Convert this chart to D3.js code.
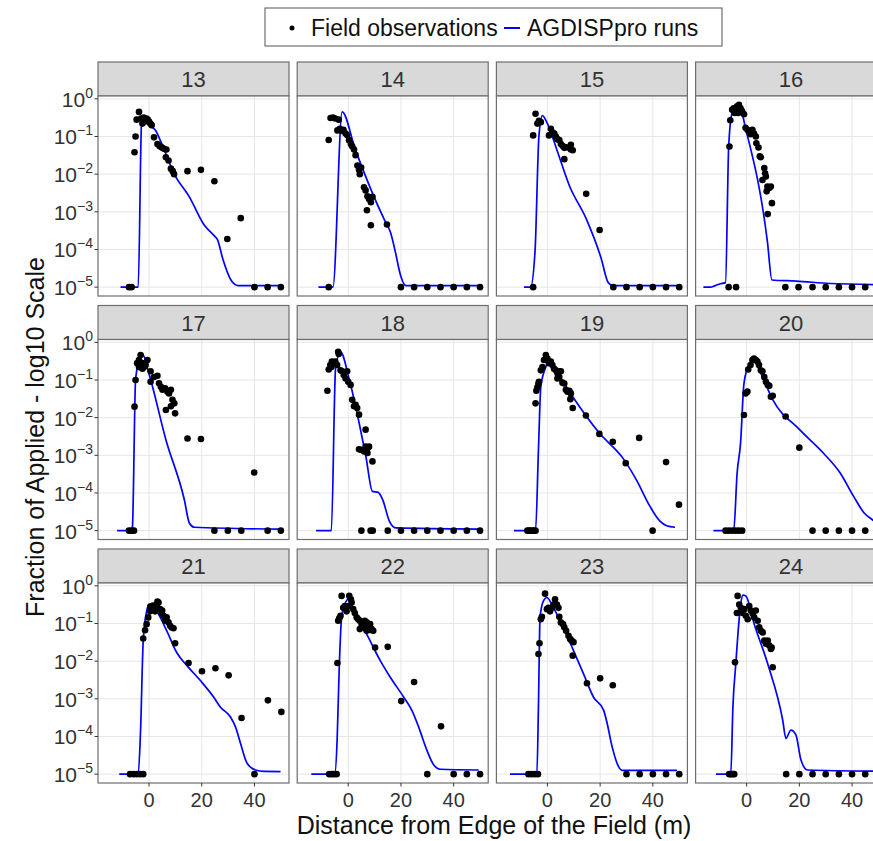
<!DOCTYPE html>
<html>
<head>
<meta charset="utf-8">
<script src="https://cdn.jsdelivr.net/npm/d3@7"></script>
<style>
  html, body { margin: 0; padding: 0; background: #fff; overflow: hidden; }
  svg { display: block; font-family: "Liberation Sans", Arial, Helvetica, sans-serif; }
</style>
</head>
<body>
<svg id="chart" width="873" height="841"></svg>
<script>
// ---- facet labels and axis ticks ----
const facetIds = [13, 14, 15, 16, 17, 18, 19, 20, 21, 22, 23, 24];
const xTicks = [0, 20, 40];
const yTickExps = [0, -1, -2, -3, -4, -5];

// ---- field observations: [distance (m), fraction of applied] ----
const obs13 = [[-7.6,1e-5],[-6.6,1e-5],[-5.5,0.038],[-5.1,0.1],[-4.7,0.28],[-3.8,0.45],[-3,0.3],[-2.5,0.22],[-2,0.32],[-1.5,0.25],[-1,0.3],[-0.5,0.28],[0,0.25],[0.5,0.22],[1,0.2],[1.9,0.095],[3.2,0.063],[4,0.056],[4.5,0.053],[5,0.05],[5.7,0.047],[6.6,0.045],[6.4,0.028],[7.4,0.023],[8.3,0.014],[9,0.012],[9.5,0.01],[14.6,0.012],[19.7,0.013],[24.8,0.0065],[29.7,0.00019],[34.8,0.00068],[40,1e-5],[45,1e-5],[50,1e-5]];
const obs14 = [[-7.4,1e-5],[-7.4,0.081],[-6.7,0.31],[-5.8,0.32],[-4.9,0.3],[-3.6,0.28],[-4.1,0.145],[-3.2,0.16],[-2.5,0.14],[-1.8,0.15],[-1,0.12],[-0.4,0.11],[0.3,0.08],[1,0.063],[1.5,0.055],[2.2,0.045],[2.8,0.032],[3.5,0.017],[4.1,0.013],[4.4,0.01],[4.9,0.015],[6,0.0045],[6.6,0.0037],[7.3,0.0026],[7.9,0.0022],[8.6,0.0018],[9.2,0.0025],[7.1,0.0011],[8.6,0.00044],[14.7,0.00046],[20,1e-5],[25,1e-5],[30,1e-5],[35,1e-5],[40,1e-5],[45,1e-5],[50,1e-5]];
const obs15 = [[-5.4,1e-5],[-4.5,0.4],[-3.2,0.26],[-3.8,0.22],[-2.5,0.24],[-5.4,0.107],[1.3,0.16],[1.9,0.13],[0.6,0.107],[2.6,0.12],[3.2,0.1],[3.8,0.085],[4.5,0.08],[5.1,0.063],[5.8,0.056],[6.4,0.05],[7.1,0.052],[8.3,0.05],[8.9,0.045],[9.6,0.043],[8.9,0.06],[6.4,0.025],[14.7,0.003],[19.8,0.00033],[25,1e-5],[30,1e-5],[35,1e-5],[40,1e-5],[45,1e-5],[50,1e-5]];
const obs16 = [[-6.8,1e-5],[-4,1e-5],[-6.5,0.054],[-6.2,0.27],[-5.5,0.51],[-4.9,0.56],[-4.2,0.47],[-3.6,0.63],[-2.9,0.69],[-2.3,0.56],[-1.7,0.47],[-1,0.39],[-4.5,0.42],[-3.2,0.42],[-0.4,0.17],[0.3,0.15],[0.9,0.135],[1.5,0.115],[2.2,0.15],[2.8,0.12],[3.5,0.1],[3.7,0.066],[4.5,0.051],[5,0.03],[5.4,0.028],[6.7,0.0145],[7,0.0105],[7.3,0.0087],[6,0.007],[7.9,0.0047],[8.6,0.0043],[9.2,0.0047],[7.6,0.0035],[9.6,0.0017],[8,0.00087],[14.7,1e-5],[19.7,1e-5],[25,1e-5],[30,1e-5],[35,1e-5],[40,1e-5],[45,1e-5]];
const obs17 = [[-7.6,1e-5],[-6.6,1e-5],[-5.7,1e-5],[-5.5,0.0196],[-5.1,0.1],[-3.8,0.34],[-3.2,0.46],[-4.5,0.28],[-2.5,0.28],[-1.9,0.22],[-1.3,0.25],[-0.6,0.34],[-3.8,0.22],[-2.5,0.2],[0.6,0.17],[1.9,0.12],[3.2,0.13],[0.6,0.09],[3.8,0.082],[4.5,0.066],[5.1,0.055],[6.1,0.06],[7,0.049],[7.6,0.044],[8.3,0.055],[8.9,0.03],[9.6,0.024],[8.3,0.02],[6.4,0.016],[9.9,0.013],[14.6,0.0028],[19.7,0.0027],[39.9,0.00035],[24.8,1e-5],[29.9,1e-5],[35,1e-5],[45,1e-5],[50,1e-5]];
const obs18 = [[-7.9,0.052],[-7.4,0.19],[-6.8,0.25],[-6.2,0.31],[-5.5,0.28],[-4.9,0.31],[-4.2,0.25],[-6.4,0.22],[-3.8,0.56],[-3.6,0.49],[-2.9,0.18],[-2.3,0.17],[-1.7,0.135],[-1,0.11],[-0.4,0.17],[0,0.09],[0.9,0.074],[1.5,0.03],[2.2,0.02],[2.8,0.022],[3.4,0.018],[4.1,0.012],[6.6,0.0048],[4.1,0.00145],[4.7,0.0014],[6,0.00126],[6.6,0.0017],[7.3,0.00155],[7.9,0.0017],[7.3,0.00115],[9.2,0.00069],[5,1e-5],[8.5,1e-5],[9.3,1e-5],[15,1e-5],[20,1e-5],[25,1e-5],[30,1e-5],[35,1e-5],[40,1e-5],[45,1e-5],[50,1e-5]];
const obs19 = [[-7.6,1e-5],[-7,1e-5],[-6.4,1e-5],[-5.7,1e-5],[-5.1,1e-5],[-4.5,1e-5],[-4.5,0.024],[-4.2,0.052],[-3.8,0.064],[-3.4,0.081],[-3.2,0.09],[-2.5,0.18],[-1.9,0.22],[-1.3,0.34],[-0.6,0.46],[0,0.37],[0.6,0.28],[1.3,0.31],[1.9,0.25],[2.5,0.2],[3.2,0.18],[3.8,0.15],[4.5,0.17],[5.1,0.17],[3.8,0.11],[4.5,0.12],[5.7,0.085],[6.4,0.081],[7,0.055],[7.6,0.049],[8.3,0.052],[8.9,0.044],[8.7,0.031],[9.6,0.018],[14.6,0.0114],[19.7,0.0037],[24.8,0.0023],[29.7,0.00062],[34.8,0.0029],[39.9,1e-5],[45,0.00066],[49.9,0.000049]];
const obs20 = [[-8,1e-5],[-6.8,1e-5],[-5.5,1e-5],[-4.2,1e-5],[-3,1e-5],[-1.7,1e-5],[-1,0.0118],[-0.4,0.044],[0.3,0.049],[0.6,0.19],[1.5,0.25],[2.2,0.34],[2.8,0.37],[3.5,0.34],[4.1,0.31],[4.7,0.25],[5.4,0.18],[6,0.17],[6.7,0.12],[7.3,0.09],[8,0.074],[8.6,0.07],[9.2,0.036],[9.9,0.038],[14.8,0.0107],[20,0.0016],[25,1e-5],[30,1e-5],[35,1e-5],[40,1e-5],[45,1e-5],[50,1e-5]];
const obs21 = [[-7.2,1e-5],[-5.9,1e-5],[-4.7,1e-5],[-3.4,1e-5],[-2.2,1e-5],[-2.2,0.04],[-1.5,0.066],[-0.9,0.096],[-0.3,0.145],[0.4,0.21],[1,0.26],[1.7,0.29],[2.3,0.21],[2.9,0.32],[3.6,0.36],[4.2,0.24],[4.8,0.19],[5.5,0.16],[6.1,0.118],[6.7,0.145],[7.4,0.107],[8,0.087],[8.6,0.078],[9.3,0.075],[0.5,0.28],[1.5,0.3],[2.5,0.27],[3.2,0.38],[5,0.22],[9.9,0.03],[15,0.0089],[20.1,0.0054],[25.2,0.0065],[30.2,0.0042],[35.1,0.00031],[40,1e-5],[45.1,0.00091],[50.2,0.00045]];
const obs22 = [[-7.2,1e-5],[-6.3,1e-5],[-5.4,1e-5],[-4.4,1e-5],[-4.1,0.0089],[-3.8,0.118],[-3.4,0.138],[-2.9,0.16],[-2.5,0.54],[-1.9,0.26],[-1.3,0.29],[-0.6,0.21],[0,0.29],[0.4,0.54],[1,0.44],[1.3,0.36],[1.9,0.24],[2.5,0.19],[3.2,0.145],[3.8,0.13],[4.4,0.118],[5.1,0.096],[5.7,0.087],[6.3,0.118],[7,0.107],[7.6,0.087],[8.3,0.096],[8.9,0.071],[9.5,0.064],[4.4,0.071],[6.3,0.075],[7,0.064],[8.3,0.067],[10.2,0.023],[15,0.024],[20.1,0.00087],[25,0.0028],[30,1e-5],[35.2,0.000186],[40,1e-5],[45,1e-5],[50,1e-5]];
const obs23 = [[-7.2,1e-5],[-6,1e-5],[-4.8,1e-5],[-3.6,1e-5],[-3.4,0.0155],[-3,0.03],[-2.5,0.13],[-2.1,0.15],[-0.9,0.62],[-0.2,0.24],[0.4,0.26],[1,0.21],[1.7,0.26],[2.3,0.32],[2.9,0.44],[3.6,0.32],[4.2,0.26],[4.5,0.15],[5.1,0.107],[5.9,0.096],[6.4,0.079],[7.1,0.064],[8,0.047],[8.6,0.039],[9.2,0.035],[9.9,0.032],[9.6,0.014],[15,0.0026],[20,0.0035],[24.8,0.0023],[30,1e-5],[35,1e-5],[40,1e-5],[45,1e-5],[50,1e-5]];
const obs24 = [[-6.6,1e-5],[-6,1e-5],[-5.3,1e-5],[-4.7,1e-5],[-4.4,0.0093],[-3.4,0.54],[-2.8,0.32],[-2.2,0.26],[-3.7,0.19],[-1.5,0.19],[-0.9,0.24],[-0.3,0.16],[0.4,0.13],[1,0.29],[1.6,0.22],[2.3,0.18],[2.9,0.145],[3.5,0.22],[4.2,0.118],[4.8,0.079],[5.4,0.064],[6.1,0.058],[6.7,0.035],[7.3,0.029],[8,0.035],[8.6,0.026],[9.2,0.021],[9.5,0.023],[9.9,0.0069],[15,1e-5],[20,1e-5],[25,1e-5],[30,1e-5],[35,1e-5],[40,1e-5],[45,1e-5],[50,1e-5]];

// ---- AGDISPpro model runs: [distance (m), fraction of applied] ----
const run13 = [[-10.8,1e-5],[-4.1,1e-5],[-2.8,0.26],[-2.3,0.3],[0,0.2],[2.5,0.145],[5,0.06],[9.6,0.01],[15.3,0.0025],[21,0.00044],[24.8,0.00023],[26,0.00018],[28,0.000056],[31.2,0.000015],[33.8,0.000011],[49.7,0.000011]];
const run14 = [[-11.3,1e-5],[-5.8,1e-5],[-2.3,0.45],[2.6,0.047],[14.1,0.00054],[16,0.00029],[17.9,0.000085],[19.9,0.00002],[21.8,0.000011],[50,0.000011]];
const run15 = [[-8.9,1e-5],[-6.4,1e-5],[-4.7,0.000089],[-3.2,0.107],[-1.9,0.36],[0,0.22],[3.8,0.04],[8.3,0.005],[14.7,0.00066],[20.4,0.000058],[23,0.0000135],[24.8,0.000011],[50,0.000011]];
const run16 = [[-16.4,1e-5],[-13.8,1e-5],[-11.9,0.000011],[-10,0.0000123],[-8,0.0000132],[-6.8,0.054],[-5.5,0.42],[-2.9,0.72],[-0.4,0.165],[7.9,0.00016],[9.6,0.0000155],[18.8,0.0000145],[31.7,0.0000125],[48.3,0.0000117]];
const run17 = [[-12.1,1e-5],[-6.6,1e-5],[-6.3,0.000012],[-5.1,0.1],[-3.8,0.33],[-2.5,0.49],[0,0.145],[6.4,0.0026],[13.4,0.000066],[15.3,0.000016],[17.2,0.0000123],[49.7,0.000011]];
const run18 = [[-12.2,1e-5],[-6.4,1e-5],[-4.8,0.2],[-2.9,0.56],[0.3,0.11],[6.7,0.00093],[9.2,0.00011],[11.2,0.000105],[13.1,0.000066],[15.6,0.000018],[18.2,0.0000118],[50,0.000011]];
const run19 = [[-12.7,1e-5],[-4.5,1e-5],[-3.4,0.0014],[-2.5,0.066],[-0.6,0.22],[0.6,0.34],[3.2,0.18],[9.6,0.036],[19.7,0.0039],[28.7,0.00083],[33.8,0.00022],[38.9,0.000044],[42.7,0.0000178],[45.2,0.0000135],[48.4,0.0000123]];
const run20 = [[-12.6,1e-5],[-4.9,1e-5],[-3.6,0.00034],[-2.3,0.0021],[-1,0.081],[0.9,0.25],[2.8,0.31],[5.4,0.15],[9.9,0.03],[20.1,0.0048],[29.1,0.00115],[35.5,0.00034],[40.6,0.000081],[44.5,0.00003],[47.7,0.0000195],[50,0.000015]];
const run21 = [[-11.3,1e-5],[-4.1,1e-5],[-3.2,0.000148],[-2.2,0.035],[-0.9,0.21],[0.1,0.32],[2.9,0.21],[6.7,0.065],[10.5,0.017],[14.4,0.0076],[19.4,0.0031],[24.5,0.00112],[27.1,0.0006],[30.9,0.00033],[32.8,0.00018],[34.7,0.000066],[37.2,0.0000195],[40.4,0.0000129],[43.6,0.0000118],[49.9,0.0000117]];
const run22 = [[-14,1e-5],[-5.1,1e-5],[-4.2,0.000081],[-3.4,0.0069],[-2.5,0.145],[-1.3,0.32],[0,0.44],[2.5,0.195],[7,0.052],[12.1,0.0105],[15.9,0.0038],[21,0.00112],[24.1,0.0005],[26.7,0.00018],[29.8,0.000044],[32.4,0.0000178],[34.9,0.0000135],[49.5,0.0000129]];
const run23 = [[-14.2,1e-5],[-4,1e-5],[-3.4,0.00063],[-2.8,0.145],[-1.5,0.4],[-0.2,0.49],[2.3,0.26],[6.1,0.078],[9.9,0.019],[13.7,0.0046],[17.5,0.0011],[21.3,0.0005],[22.5,0.00025],[24.4,0.000059],[27,0.0000158],[28.3,0.0000126],[49.2,0.0000126]];
const run24 = [[-11.6,1e-5],[-6,1e-5],[-5.2,0.0006],[-4.1,0.0085],[-2.4,0.26],[-1.5,0.57],[-0.3,0.54],[2.9,0.096],[8,0.0085],[13.7,0.00027],[14.9,0.000089],[16.8,0.000148],[18.7,0.00011],[20.6,0.000024],[23.1,0.0000129],[48.3,0.000012]];

const facets = facetIds.map((id, i) => ({
  id,
  obs: [obs13, obs14, obs15, obs16, obs17, obs18, obs19, obs20, obs21, obs22, obs23, obs24][i],
  run: [run13, run14, run15, run16, run17, run18, run19, run20, run21, run22, run23, run24][i]
}));

// ---- layout ----
const ncol = 4;
const panelW = 191, panelH = 200, stripH = 34;
const panelLeft = 98, panelTop = 96;
const colStep = 199.2, rowStep = 243.5;

const x = d3.scaleLinear().domain([-19.35, 53.1]).range([0, panelW]);
const y = d3.scaleLog().domain([Math.pow(10, -5.235), Math.pow(10, 0.075)]).range([panelH, 0]);

const svg = d3.select("#chart");
const textCol = "#333";
const borderCol = "#6e6e6e";

const line = d3.line()
  .x(d => x(d[0]))
  .y(d => y(d[1]))
  .curve(d3.curveMonotoneX);

facets.forEach((f, i) => {
  const col = i % ncol, row = Math.floor(i / ncol);
  const px = panelLeft + col * colStep;
  const py = panelTop + row * rowStep;
  const g = svg.append("g").attr("transform", `translate(${px},${py})`);

  // strip
  g.append("rect")
    .attr("x", 0).attr("y", -stripH)
    .attr("width", panelW).attr("height", stripH)
    .attr("fill", "#d9d9d9").attr("stroke", borderCol).attr("stroke-width", 1.2);
  g.append("text")
    .attr("x", panelW / 2).attr("y", -stripH / 2 + 8)
    .attr("text-anchor", "middle")
    .attr("font-size", 22).attr("fill", textCol)
    .text(f.id);

  // panel background and grid
  g.append("rect")
    .attr("width", panelW).attr("height", panelH).attr("fill", "#fff");
  g.append("g").selectAll("line").data(yTickExps).join("line")
    .attr("x1", 0).attr("x2", panelW)
    .attr("y1", e => y(Math.pow(10, e))).attr("y2", e => y(Math.pow(10, e)))
    .attr("stroke", "#e6e6e6").attr("stroke-width", 1);
  g.append("g").selectAll("line").data(xTicks).join("line")
    .attr("y1", 0).attr("y2", panelH)
    .attr("x1", d => x(d)).attr("x2", d => x(d))
    .attr("stroke", "#e6e6e6").attr("stroke-width", 1);

  // model run line
  g.append("path")
    .datum(f.run)
    .attr("d", line)
    .attr("fill", "none")
    .attr("stroke", "#0000ff")
    .attr("stroke-width", 1.7)
    .attr("stroke-linejoin", "round");

  // observations
  g.append("g").selectAll("circle").data(f.obs).join("circle")
    .attr("cx", d => x(d[0])).attr("cy", d => y(d[1]))
    .attr("r", 3.3).attr("fill", "#000");

  // panel border
  g.append("rect")
    .attr("width", panelW).attr("height", panelH)
    .attr("fill", "none").attr("stroke", borderCol).attr("stroke-width", 1.2);

  // y axis on first column
  if (col === 0) {
    const ya = g.append("g");
    yTickExps.forEach(e => {
      const yy = y(Math.pow(10, e));
      ya.append("line").attr("x1", -3.5).attr("x2", 0).attr("y1", yy).attr("y2", yy)
        .attr("stroke", textCol).attr("stroke-width", 1);
      const t = ya.append("text")
        .attr("x", -5).attr("y", yy + 8)
        .attr("text-anchor", "end")
        .attr("font-size", 21).attr("fill", textCol);
      t.append("tspan").text("10");
      t.append("tspan").attr("dy", -9).attr("font-size", 14)
        .text(e < 0 ? "\u2212" + Math.abs(e) : String(e));
    });
  }

  // x axis on bottom row
  if (row === 2) {
    const xa = g.append("g").attr("transform", `translate(0,${panelH})`);
    xTicks.forEach(v => {
      xa.append("line").attr("x1", x(v)).attr("x2", x(v)).attr("y1", 0).attr("y2", 3.5)
        .attr("stroke", textCol).attr("stroke-width", 1);
      xa.append("text").attr("x", x(v)).attr("y", 24)
        .attr("text-anchor", "middle")
        .attr("font-size", 20).attr("fill", textCol)
        .text(v);
    });
  }
});

// axis titles
svg.append("text")
  .attr("x", 494).attr("y", 834)
  .attr("text-anchor", "middle")
  .attr("font-size", 25).attr("fill", "#111")
  .text("Distance from Edge of the Field (m)");
svg.append("text")
  .attr("transform", "translate(44,437) rotate(-90)")
  .attr("text-anchor", "middle")
  .attr("font-size", 25).attr("fill", "#111")
  .text("Fraction of Applied - log10 Scale");

// legend
const lg = svg.append("g");
lg.append("rect")
  .attr("x", 265).attr("y", 8).attr("width", 457).attr("height", 38)
  .attr("fill", "#fff").attr("stroke", "#555").attr("stroke-width", 1);
lg.append("circle").attr("cx", 292).attr("cy", 28).attr("r", 2.5).attr("fill", "#000");
lg.append("text").attr("x", 311).attr("y", 36)
  .attr("font-size", 23).attr("fill", "#111").text("Field observations");
lg.append("line").attr("x1", 504).attr("x2", 520).attr("y1", 28).attr("y2", 28)
  .attr("stroke", "#0000ff").attr("stroke-width", 2);
lg.append("text").attr("x", 527).attr("y", 36)
  .attr("font-size", 23).attr("fill", "#111").text("AGDISPpro runs");
</script>
</body>
</html>
